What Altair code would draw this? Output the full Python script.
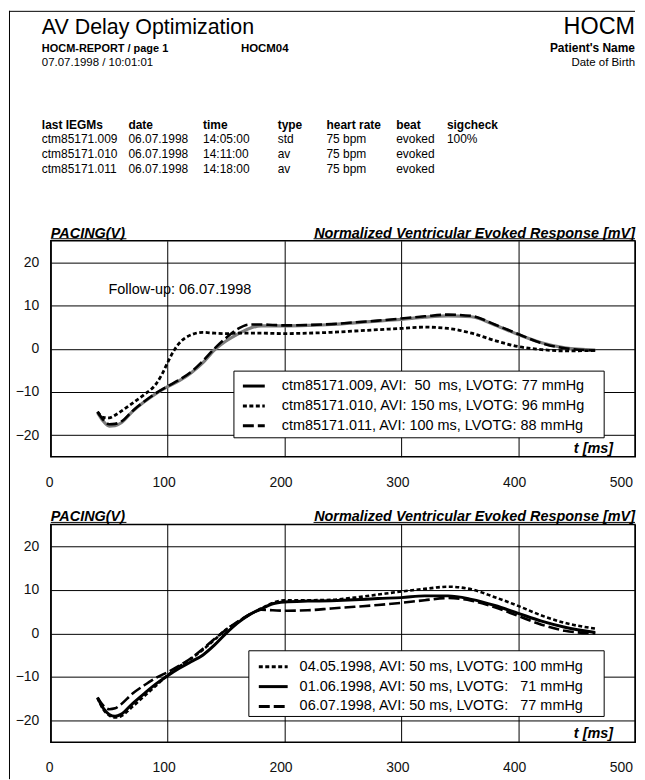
import altair as alt
import pandas as pd

FONT = "Liberation Sans"

# ---------------- data ----------------
T_STD = [40, 45, 50, 55, 60, 70, 80, 90, 100, 110, 120, 130, 140, 150, 160, 170,
         180, 190, 200, 220, 240, 260, 280, 300, 320, 340, 360, 380, 400, 420, 440, 466]

TOP_V_009 = [-14.8, -16.8, -17.9, -17.8, -17.2, -14.5, -12.3, -10.4, -8.8, -7.4, -5.6, -3.3,
             -0.3, 1.8, 3.4, 4.7, 5.3, 5.3, 5.3, 5.4, 5.6, 6.0, 6.4, 6.8, 7.3, 7.6, 7.4, 5.5,
             3.3, 1.4, 0.2, -0.3]
TOP_V_011 = [-14.6, -16.5, -17.5, -17.4, -16.9, -14.4, -12.2, -10.3, -8.7, -7.2, -5.4, -2.9,
             0.0, 2.5, 4.6, 5.6, 5.6, 5.5, 5.4, 5.5, 5.7, 6.1, 6.5, 7.0, 7.5, 7.9, 7.6, 5.6,
             3.4, 1.3, 0.1, -0.4]
TOP_T_010 = [40, 45, 50, 55, 60, 70, 80, 90, 95, 100, 105, 110, 115, 120, 130, 140, 150, 160,
             180, 200, 220, 240, 260, 280, 300, 320, 340, 360, 380, 400, 420, 440, 466]
TOP_V_010 = [-14.6, -15.9, -16.0, -15.4, -14.5, -12.6, -10.6, -8.2, -6.0, -3.2, -0.6, 1.3, 2.5,
             3.2, 3.8, 3.6, 3.5, 3.6, 3.6, 3.5, 3.6, 3.8, 4.1, 4.4, 4.7, 5.0, 4.7, 3.6, 1.9,
             0.5, -0.2, -0.5, -0.4]

BOT_V_0405 = [-14.8, -17.5, -18.8, -19.3, -19.0, -16.8, -14.4, -12.0, -9.6, -7.6, -5.8, -3.8,
              -1.5, 0.9, 2.6, 4.3, 5.7, 7.0, 7.6, 7.6, 7.7, 8.2, 8.9, 9.6, 10.2, 10.7, 10.1,
              8.3, 6.3, 4.1, 2.4, 1.1]
BOT_V_0106 = [-14.8, -17.2, -18.6, -19.0, -18.6, -16.1, -13.8, -11.6, -9.7, -8.0, -6.5, -5.0,
              -2.7, 0.0, 2.4, 4.3, 5.6, 6.8, 7.2, 7.4, 7.5, 7.7, 8.0, 8.2, 8.6, 8.6, 7.8, 6.4,
              4.6, 2.8, 1.4, 0.2]
BOT_V_0607 = [-14.7, -16.6, -17.4, -17.2, -16.3, -13.8, -11.9, -10.2, -8.9, -7.4, -5.7, -3.6,
              -1.3, 0.8, 2.7, 4.3, 5.4, 5.3, 5.2, 5.3, 5.7, 6.1, 6.5, 7.0, 7.6, 8.1, 7.5, 6.0,
              4.0, 2.0, 0.6, 0.0]

NB = "\u00a0"
TOP_LABELS = [
    "ctm85171.009, AVI:" + NB * 2 + "50" + NB * 2 + "ms, LVOTG: 77 mmHg",
    "ctm85171.010, AVI: 150 ms, LVOTG: 96 mmHg",
    "ctm85171.011, AVI: 100 ms, LVOTG: 88 mmHg",
]
BOT_LABELS = [
    "04.05.1998, AVI: 50 ms, LVOTG: 100 mmHg",
    "01.06.1998, AVI: 50 ms, LVOTG:" + NB * 3 + "71 mmHg",
    "06.07.1998, AVI: 50 ms, LVOTG:" + NB * 3 + "77 mmHg",
]

TABLE_HEAD = ["last IEGMs", "date", "time", "type", "heart rate", "beat", "sigcheck"]
TABLE_ROWS = [
    ["ctm85171.009", "06.07.1998", "14:05:00", "std", "75 bpm", "evoked", "100%"],
    ["ctm85171.010", "06.07.1998", "14:11:00", "av", "75 bpm", "evoked", ""],
    ["ctm85171.011", "06.07.1998", "14:18:00", "av", "75 bpm", "evoked", ""],
]

X_TICKS = [0, 100, 200, 300, 400, 500]
Y_TICKS = [-20, -10, 0, 10, 20]

# ---------------- layout ----------------
W = 587
H_TOP = 217
H_BOT = 219
H_HEAD = 163
COL_X = [-9, 78, 153, 228, 277, 347, 398]
ROW_Y = [119, 133, 148, 162.5]

dummy = pd.DataFrame({"d": [0]})


def txt(s, x, y, size=12, weight="normal", style="normal", align="left", baseline="alphabetic"):
    return alt.Chart(dummy).mark_text(
        font=FONT, fontSize=size, fontWeight=weight, fontStyle=style,
        align=align, baseline=baseline, color="black"
    ).encode(x=alt.value(x), y=alt.value(y), text=alt.value(s))


def hrule(x1, x2, y, width=1.0, dash=None, color="black"):
    kw = dict(color=color, strokeWidth=width)
    if dash is not None:
        kw["strokeDash"] = dash
    return alt.Chart(dummy).mark_rule(**kw).encode(
        x=alt.value(x1), x2=alt.value(x2), y=alt.value(y))


def encs(label_pad):
    x_enc = alt.X("t:Q", scale=alt.Scale(domain=[0, 500], nice=False, zero=False),
                  axis=alt.Axis(values=X_TICKS, title=None, grid=True, gridColor="black",
                                gridWidth=1, gridOpacity=1, domain=False, ticks=False,
                                labelPadding=label_pad, labelFontSize=14, labelFont=FONT,
                                labelColor="#111", labelFlush=True, labelFlushOffset=1.5,
                                labelOffset=-4))
    y_enc = alt.Y("v:Q", scale=alt.Scale(domain=[-25, 25], nice=False, zero=False),
                  axis=alt.Axis(values=Y_TICKS, title=None, grid=True, gridColor="black",
                                gridWidth=1, gridOpacity=1, domain=False, ticks=False,
                                labelPadding=12, labelFontSize=14, labelFont=FONT,
                                labelColor="#111"))
    return x_enc, y_enc


def series(t, v, color, width, enc, dash=None):
    df = pd.DataFrame({"t": t, "v": v})
    kw = dict(interpolate="monotone", color=color, strokeWidth=width, clip=True)
    if dash is not None:
        kw["strokeDash"] = dash
    return alt.Chart(df).mark_line(**kw).encode(x=enc[0], y=enc[1])


SHORT = [4, 2.5]
LONG = [11, 4]


def legend(box, rows, sym, tx, labels, dashes):
    layers = [alt.Chart(dummy).mark_rect(fill="white", stroke="black", strokeWidth=1).encode(
        x=alt.value(box[0]), x2=alt.value(box[1]), y=alt.value(box[2]), y2=alt.value(box[3]))]
    for ry, lab, d in zip(rows, labels, dashes):
        layers.append(hrule(sym[0], sym[1], ry, width=3, dash=d))
        layers.append(txt(lab, tx, ry, size=14.5, baseline="middle"))
    return layers


def titles():
    return [
        txt("PACING(V)", 0, -3, size=14.5, weight="bold", style="italic"),
        hrule(0, 76, -2, width=1),
        txt("Normalized Ventricular Evoked Response [mV]", W, -3, size=14.5, weight="bold",
            style="italic", align="right"),
        hrule(264, W, -2, width=1),
    ]


view = alt.ViewBackground(stroke="black", strokeWidth=1.5, fill="white")

# ---------------- top chart ----------------
enc_top = encs(18.5)
top_layers = [
    series(T_STD, TOP_V_009, "#7d7d7d", 3.2, enc_top),
    series(TOP_T_010, TOP_V_010, "black", 2.8, enc_top, SHORT),
    series(T_STD, TOP_V_011, "black", 2.6, enc_top, LONG),
] + titles() + [
    txt("Follow-up: 06.07.1998", 58, 54, size=14.5),
    txt("t [ms]", 565, H_TOP - 4, size=14.5, weight="bold", style="italic", align="right"),
] + legend((184, 556, 131, 198), [146, 166, 186], (193, 215), 232, TOP_LABELS,
           [None, SHORT, LONG])

top = alt.layer(*top_layers).properties(width=W, height=H_TOP, view=view)

# ---------------- bottom chart ----------------
enc_bot = encs(18.5)
bot_layers = [
    series(T_STD, BOT_V_0607, "black", 2.6, enc_bot, LONG),
    series(T_STD, BOT_V_0106, "black", 3.0, enc_bot),
    series(T_STD, BOT_V_0405, "black", 2.6, enc_bot, SHORT),
] + titles() + [
    txt("t [ms]", 565, H_BOT - 4, size=14.5, weight="bold", style="italic", align="right"),
] + legend((199, 556, 127, 193), [143, 163, 183], (209, 238), 250, BOT_LABELS,
           [SHORT, None, LONG])

bot = alt.layer(*bot_layers).properties(width=W, height=H_BOT, view=view)

# ---------------- header ----------------
head_layers = [
    alt.Chart(dummy).mark_rule(color="black", strokeWidth=1).encode(
        x=alt.value(-41.5), y=alt.value(0), y2=alt.value(772)),
    hrule(-42, 587, 0.5, width=1),
    txt("AV Delay Optimization", -9, 23.5, size=21.5),
    txt("HOCM", 587, 23.5, size=23.5, align="right"),
    txt("HOCM-REPORT / page 1", -9, 41.5, size=11, weight="bold"),
    txt("HOCM04", 191, 41.5, size=11.5, weight="bold"),
    txt("Patient's Name", 587, 41.5, size=12, weight="bold", align="right"),
    txt("07.07.1998 / 10:01:01", -9, 55, size=11.5),
    txt("Date of Birth", 587, 55, size=11.5, align="right"),
]
for cx, h in zip(COL_X, TABLE_HEAD):
    head_layers.append(txt(h, cx, ROW_Y[0], size=12, weight="bold"))
for ri, row in enumerate(TABLE_ROWS):
    for cx, cell in zip(COL_X, row):
        if cell:
            head_layers.append(txt(cell, cx, ROW_Y[ri + 1], size=12))

head = alt.layer(*head_layers).properties(
    width=W, height=H_HEAD, view=alt.ViewBackground(strokeWidth=0, fill="white"))

chart = alt.vconcat(head, top, bot, spacing=68, bounds="flush", padding=0).configure(
    background="white").configure_view(strokeWidth=0)

chart.save("out.html", embed_options={"renderer": "svg", "actions": False})
